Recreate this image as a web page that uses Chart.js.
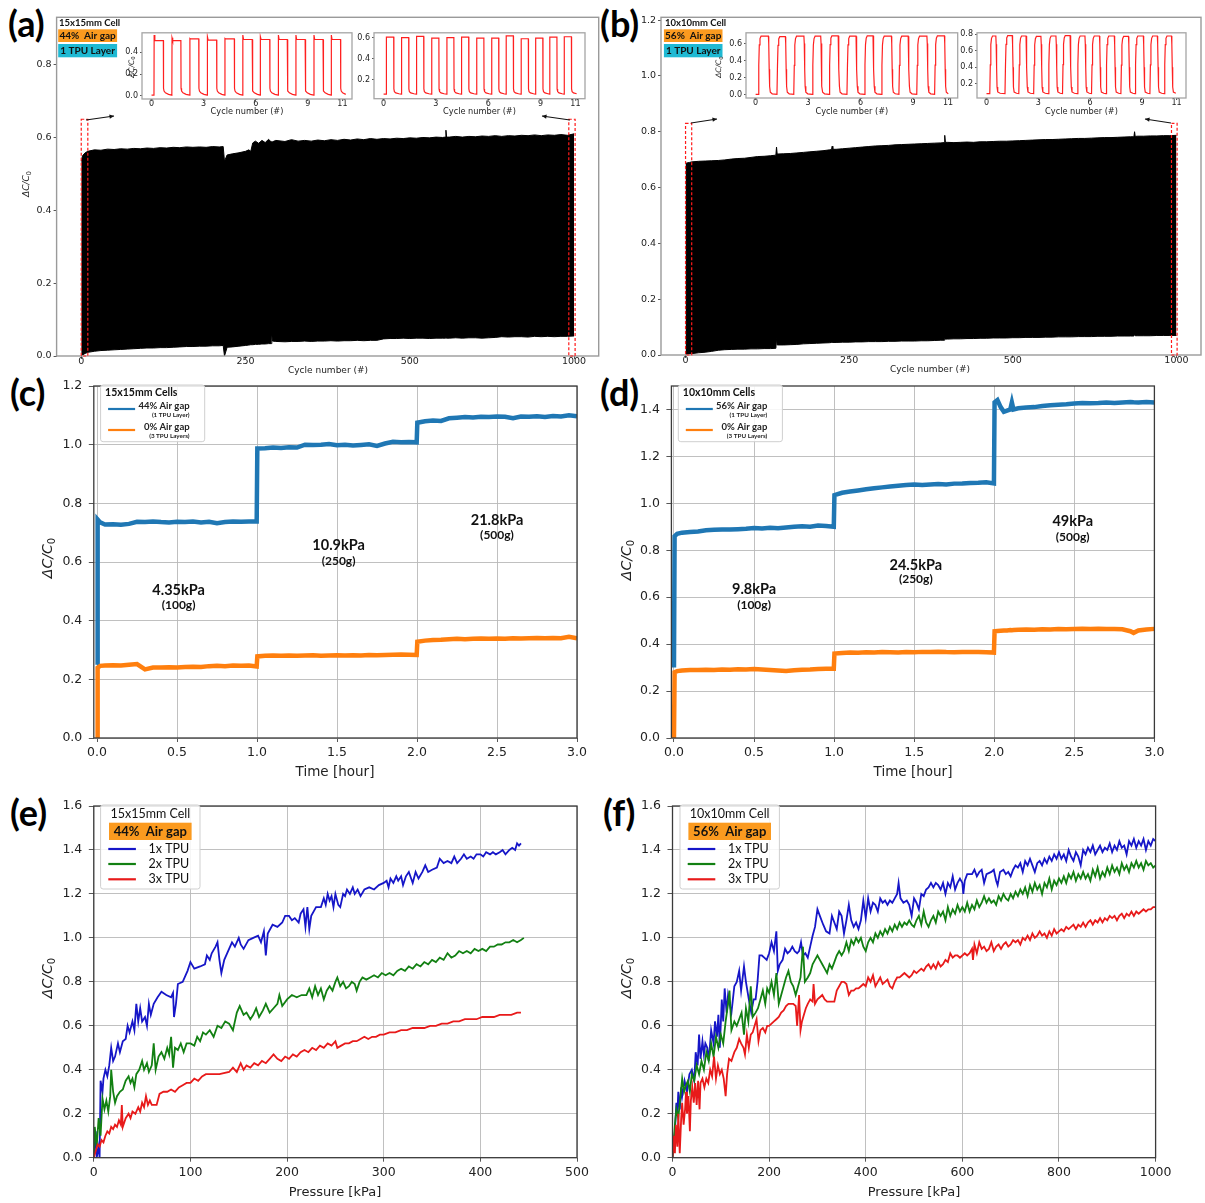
<!DOCTYPE html>
<html>
<head>
<meta charset="utf-8">
<script src="https://cdn.jsdelivr.net/npm/chart.js@4.4.1/dist/chart.umd.min.js"></script>
<style>
  html, body { margin: 0; padding: 0; background: #fff; }
  #fig { position: relative; width: 1205px; height: 1203px; overflow: hidden; background: #fff; }
  #fig canvas { position: absolute; }
  .tag { position: absolute; font-family: Lato, 'Open Sans', sans-serif; font-weight: 700; font-size: 36px; line-height: 1; color: #000; }
</style>
</head>
<body>
<div id="fig">
  <div class="tag" style="left:8px;top:5px">(a)</div>
  <div class="tag" style="left:600px;top:5px">(b)</div>
  <div class="tag" style="left:10px;top:374px">(c)</div>
  <div class="tag" style="left:600px;top:374px">(d)</div>
  <div class="tag" style="left:10px;top:794px">(e)</div>
  <div class="tag" style="left:603px;top:794px">(f)</div>
</div>
<script>
// ---------------- data ----------------

// (a)/(b) long cycling runs: [cycle position, lower envelope, upper envelope]
const cycleTickPos = [0, 250, 500, 750];
const cycleTickText = ['0', '250', '500', '1000'];

const envelopeA = [
  [0,0.0,0.535],[2,0.003,0.55],[6,0.007,0.558],[10,0.01,0.562],[20,0.013,0.566],[30,0.015,0.565],
  [40,0.016,0.568],[50,0.017,0.567],[60,0.018,0.569],[70,0.019,0.568],[80,0.02,0.57],[90,0.021,0.569],
  [100,0.022,0.571],[110,0.022,0.57],[120,0.023,0.572],[130,0.023,0.571],[140,0.024,0.573],[150,0.025,0.572],
  [160,0.026,0.574],[170,0.026,0.573],[180,0.027,0.574],[190,0.027,0.573],[200,0.028,0.575],[210,0.028,0.574],
  [216,0.029,0.575],[218,0.0,0.535],[222,0.024,0.552],[230,0.025,0.555],[240,0.027,0.558],[250,0.029,0.562],
  [255,0.03,0.566],[258,0.031,0.562],[261,0.031,0.585],[265,0.032,0.59],[270,0.032,0.584],[275,0.033,0.592],
  [280,0.033,0.586],[285,0.034,0.595],[289,0.034,0.588],[290,0.058,0.589],[291,0.041,0.588],[296,0.04,0.592],
  [310,0.039,0.589],[320,0.04,0.594],
  [330,0.04,0.59],[340,0.041,0.592],[350,0.04,0.59],[360,0.041,0.593],[370,0.041,0.591],[380,0.042,0.594],
  [390,0.041,0.592],[400,0.042,0.595],[410,0.042,0.593],[420,0.043,0.596],[430,0.042,0.594],[440,0.043,0.597],
  [450,0.043,0.595],[460,0.047,0.597],[470,0.048,0.596],[480,0.048,0.598],[490,0.049,0.597],[500,0.048,0.599],
  [510,0.049,0.598],[520,0.049,0.6],[530,0.048,0.599],[540,0.049,0.601],[550,0.049,0.6],[554,0.049,0.601],
  [555,0.05,0.62],[556,0.049,0.601],
  [560,0.049,0.601],[570,0.05,0.603],[580,0.049,0.601],[590,0.05,0.603],[600,0.05,0.602],[610,0.049,0.604],
  [620,0.05,0.603],[630,0.051,0.605],[640,0.053,0.603],[650,0.052,0.605],[660,0.053,0.604],[670,0.053,0.606],
  [680,0.052,0.605],[690,0.054,0.607],[700,0.053,0.605],[710,0.054,0.607],[720,0.053,0.606],[730,0.054,0.608],
  [740,0.054,0.606],[750,0.055,0.61]
];

const envelopeB = [
  [0,0.0,0.686],[2,0.002,0.688],[6,0.004,0.69],[10,0.005,0.692],[20,0.008,0.694],[30,0.01,0.695],
  [40,0.013,0.696],[50,0.017,0.697],[60,0.019,0.699],[70,0.02,0.702],[80,0.021,0.704],[90,0.021,0.705],
  [100,0.022,0.708],[110,0.022,0.711],[120,0.023,0.712],[130,0.023,0.714],[138,0.024,0.716],[139,0.06,0.745],
  [140,0.036,0.72],[150,0.036,0.721],[160,0.037,0.722],[170,0.038,0.724],[180,0.04,0.726],[190,0.041,0.728],
  [200,0.042,0.73],[210,0.043,0.732],[220,0.044,0.735],[223,0.045,0.736],[224,0.045,0.748],[225,0.045,0.737],
  [230,0.045,0.737],[240,0.046,0.739],
  [250,0.046,0.741],[260,0.047,0.743],[270,0.047,0.745],[280,0.048,0.747],[290,0.048,0.749],[300,0.048,0.75],
  [310,0.049,0.751],[320,0.049,0.753],[330,0.05,0.754],[340,0.05,0.755],[350,0.05,0.756],[360,0.051,0.757],
  [370,0.051,0.758],[380,0.052,0.759],[390,0.053,0.76],[395,0.053,0.761],[396,0.058,0.787],[397,0.057,0.762],
  [400,0.057,0.762],[410,0.058,0.761],
  [420,0.058,0.762],[430,0.059,0.763],[440,0.059,0.762],[450,0.06,0.764],[460,0.06,0.764],[470,0.061,0.765],
  [480,0.061,0.766],[490,0.061,0.766],[500,0.062,0.767],[510,0.062,0.768],[520,0.063,0.769],[530,0.063,0.77],
  [540,0.063,0.771],[550,0.064,0.772],[560,0.064,0.772],[570,0.065,0.773],[580,0.065,0.774],[590,0.065,0.775],
  [600,0.066,0.776],[610,0.066,0.776],[620,0.066,0.777],[630,0.067,0.778],[640,0.067,0.779],[650,0.067,0.779],
  [660,0.068,0.78],[670,0.068,0.781],[680,0.068,0.782],[685,0.068,0.782],[686,0.075,0.8],[687,0.069,0.783],
  [690,0.069,0.784],[700,0.069,0.784],
  [710,0.069,0.785],[720,0.07,0.785],[730,0.07,0.786],[740,0.07,0.786],[750,0.07,0.787]
];

// marked cycle windows shown enlarged in the insets
const zoomSpansA = [[0, 10], [742, 751.6]];
const zoomTopA = 0.65;
const zoomSpansB = [[0, 9.4], [742.4, 751]];
const zoomTopB = 0.83;

// inset pulse trains (first and last cycles)
const insetTicks = [0, 3, 6, 9, 11];
const a1Rise = [0.14, 1.17, 2.2, 3.21, 4.22, 5.25, 6.26, 7.3, 8.31, 9.35, 10.35];
const a1Fall = [0.68, 1.69, 2.72, 3.75, 4.77, 5.8, 6.81, 7.82, 8.85, 9.88, 10.89];
const a1Top  = [0.505, 0.505, 0.52, 0.51, 0.52, 0.515, 0.515, 0.515, 0.515, 0.515, 0.515];
const a1Peak = [0.556, 0.53, 0.525, 0.54, 0.525, 0.556, 0.54, 0.556, 0.556, 0.556, 0.556];
const a2Rise = [0.15, 1.02, 1.88, 2.75, 3.62, 4.46, 5.33, 6.19, 7.02, 7.88, 8.71, 9.52, 10.35];
const a2Fall = [0.58, 1.44, 2.3, 3.17, 4.03, 4.88, 5.75, 6.6, 7.44, 8.3, 9.13, 9.94, 10.77];
const a2Top  = [0.606, 0.6, 0.612, 0.597, 0.6, 0.606, 0.597, 0.597, 0.618, 0.59, 0.597, 0.606, 0.609];
const b1Rise = [0.15, 1.22, 2.18, 3.24, 4.2, 5.22, 6.22, 7.19, 8.19, 9.21, 10.23];
const b1Fall = [0.73, 1.7, 2.76, 3.72, 4.72, 5.74, 6.71, 7.76, 8.72, 9.79, 10.79];
const b1Top  = [0.685, 0.68, 0.685, 0.685, 0.69, 0.685, 0.69, 0.685, 0.685, 0.685, 0.69];
const b2Rise = [0.19, 1.07, 1.87, 2.73, 3.58, 4.4, 5.26, 6.08, 6.92, 7.78, 8.6, 9.46, 10.29];
const b2Fall = [0.54, 1.49, 2.29, 3.15, 4.02, 4.84, 5.7, 6.54, 7.4, 8.22, 9.08, 9.89, 10.71];
const b2Top  = [0.78, 0.785, 0.78, 0.775, 0.78, 0.785, 0.78, 0.78, 0.78, 0.775, 0.78, 0.78, 0.78];

// edge profiles of the pulses: rise [dx, fraction of plateau], fall [dx, level]
const sharpRise = [[0.012, 1]];
const roundRise = [[0.03, 0.5], [0.06, 0.85], [0.1, 0.96], [0.16, 1]];
const a1Tail = [[0.01, 0.07], [0.04, 0.045], [0.12, 0.028], [0.3, 0.014]];
const a2Tail = [[0.01, 0.11], [0.04, 0.085], [0.12, 0.072], [0.3, 0.064]];
const b1Tail = [[0.02, 0.6], [0.045, 0.3], [0.07, 0.1], [0.11, 0.03], [0.22, 0.012]];
const b2Tail = [[0.02, 0.68], [0.045, 0.4], [0.07, 0.16], [0.11, 0.1], [0.25, 0.085]];

// (c) 15x15mm cells, constant loads
const timeC = [0,0.004,0.02,0.05,
  0.1,0.15,0.2,0.25,0.3,0.35,0.4,0.45,0.5,0.55,0.6,0.65,0.7,0.75,0.8,0.85,0.9,0.95,
  0.998,1.002,
  1.05,1.1,1.15,1.2,1.25,1.3,1.35,1.4,1.45,1.5,1.55,1.6,1.65,1.7,1.75,1.8,1.85,1.9,1.95,
  1.998,2.002,
  2.05,2.1,2.15,2.2,2.25,2.3,2.35,2.4,2.45,2.5,2.55,2.6,2.65,2.7,2.75,2.8,2.85,2.9,2.95,3.0];
const blueC = [0.25,0.745,0.735,0.728,
  0.729,0.727,0.73,0.737,0.736,0.738,0.736,0.735,0.737,0.736,0.738,0.735,0.737,0.732,0.736,0.738,0.737,0.738,
  0.738,0.987,
  0.988,0.99,0.989,0.991,0.99,1.0,0.999,1.0,1.002,0.998,1.0,0.997,0.999,1.001,0.996,1.004,1.01,1.008,1.009,
  1.008,1.075,
  1.08,1.082,1.081,1.09,1.092,1.094,1.093,1.095,1.094,1.096,1.095,1.09,1.096,1.095,1.097,1.094,1.098,1.096,1.1,1.097];
const orangeC = [0.0,0.24,0.246,0.247,
  0.248,0.247,0.25,0.252,0.234,0.24,0.24,0.241,0.24,0.242,0.243,0.242,0.245,0.246,0.245,0.247,0.246,0.247,
  0.244,0.278,
  0.28,0.281,0.28,0.281,0.28,0.281,0.282,0.28,0.281,0.282,0.281,0.282,0.281,0.283,0.282,0.283,0.284,0.285,0.284,
  0.283,0.328,
  0.332,0.334,0.335,0.337,0.338,0.337,0.338,0.339,0.338,0.339,0.338,0.34,0.339,0.34,0.341,0.34,0.341,0.34,0.345,0.34];

// (d) 10x10mm cells, constant loads
const timeD = [0,0.004,0.02,0.05,
  0.1,0.15,0.2,0.25,0.3,0.35,0.4,0.45,0.5,0.55,0.6,0.65,0.7,0.75,0.8,0.85,0.9,0.95,
  0.998,1.002,
  1.05,1.1,1.15,1.2,1.25,1.3,1.35,1.4,1.45,1.5,1.55,1.6,1.65,1.7,1.75,1.8,1.85,1.9,1.95,
  1.998,2.002,
  2.02,2.04,2.06,2.08,2.1,2.11,2.12,2.15,
  2.2,2.25,2.3,2.35,2.4,2.45,2.5,2.55,2.6,2.65,2.7,2.75,2.8,2.85,
  2.87,2.9,2.95,3.0];
const blueD = [0.30,0.86,0.87,0.875,
  0.878,0.88,0.885,0.887,0.889,0.888,0.89,0.892,0.895,0.893,0.896,0.894,0.897,0.9,0.902,0.9,0.905,0.903,
  0.9,1.035,
  1.045,1.05,1.055,1.06,1.064,1.068,1.072,1.075,1.078,1.08,1.078,1.08,1.082,1.08,1.084,1.085,1.087,1.088,1.09,
  1.085,1.43,
  1.44,1.41,1.39,1.395,1.40,1.43,1.40,1.405,
  1.408,1.41,1.415,1.418,1.42,1.422,1.425,1.428,1.427,1.428,1.43,1.428,1.43,1.432,
  1.431,1.43,1.432,1.43];
const orangeD = [0.0,0.28,0.285,0.288,
  0.29,0.29,0.291,0.29,0.292,0.291,0.293,0.292,0.294,0.292,0.29,0.288,0.286,0.289,0.291,0.292,0.294,0.295,
  0.295,0.36,
  0.362,0.364,0.363,0.365,0.364,0.366,0.365,0.364,0.366,0.365,0.367,0.366,0.368,0.366,0.365,0.366,0.367,0.366,0.365,
  0.364,0.455,
  0.456,0.457,0.458,0.458,0.46,0.459,0.46,0.461,
  0.462,0.461,0.463,0.462,0.464,0.463,0.465,0.466,0.465,0.466,0.465,0.464,0.463,0.455,
  0.448,0.458,0.462,0.465];

// (e) 15x15mm cell, 44% air gap: [pressure kPa, dC/C0]
const e1x = [[0,0],[2,0.12],[3,0],[5,0.05],[6,0],[7,0.35],[9,0.3],[10,0.36],[12,0.4],[14,0.37],[16,0.42],[18,0.5],[20,0.44],[22,0.46],[25,0.52],[27,0.48],[30,0.53],[33,0.54],[35,0.6],[37,0.57],[40,0.62],[42,0.58],[44,0.7],[46,0.62],[48,0.68],[50,0.62],[53,0.64],[55,0.6],[57,0.7],[59,0.65],[62,0.7],[66,0.73],[70,0.755],[75,0.74],[80,0.73],[82,0.75],[83,0.64],[85,0.7],[87,0.79],[92,0.8],[97,0.85],[100,0.89],[104,0.86],[110,0.87],[115,0.88],[117,0.92],[120,0.9],[122,0.93],[126,0.96],[128,0.98],[130,0.9],[132,0.84],[135,0.9],[140,0.95],[143,0.98],[146,0.96],[150,1.0],[152,0.97],[155,0.95],[160,0.99],[165,1.0],[170,1.01],[173,0.98],[176,1.03],[178,0.92],[180,1.02],[185,1.06],[190,1.05],[195,1.07],[198,1.1],[202,1.1],[205,1.08],[208,1.09],[212,1.07],[214,1.11],[217,1.13],[219,1.05],[221,1.14],[223,1.04],[225,1.1],[230,1.14],[235,1.14],[238,1.18],[240,1.15],[242,1.2],[244,1.17],[246,1.19],[248,1.14],[250,1.2],[253,1.15],[255,1.14],[258,1.2],[260,1.19],[262,1.22],[265,1.2],[268,1.23],[270,1.2],[273,1.22],[276,1.19],[280,1.22],[285,1.23],[290,1.22],[295,1.24],[300,1.25],[303,1.26],[305,1.23],[307,1.27],[310,1.25],[313,1.28],[315,1.26],[318,1.28],[320,1.24],[323,1.28],[326,1.3],[330,1.25],[333,1.3],[336,1.27],[340,1.3],[343,1.33],[346,1.3],[350,1.31],[355,1.32],[358,1.36],[362,1.34],[366,1.35],[370,1.34],[373,1.37],[376,1.34],[380,1.36],[383,1.38],[386,1.36],[390,1.37],[393,1.36],[396,1.38],[400,1.38],[403,1.37],[406,1.39],[410,1.38],[413,1.39],[416,1.38],[420,1.39],[423,1.4],[426,1.38],[430,1.4],[433,1.41],[436,1.4],[438,1.43],[440,1.42],[442,1.43]];
const e2x = [[0,0],[1,0.14],[3,0.05],[5,0.18],[7,0.1],[9,0.27],[11,0.22],[13,0.26],[15,0.21],[17,0.28],[18,0.4],[20,0.3],[22,0.25],[24,0.28],[27,0.3],[30,0.31],[33,0.35],[36,0.37],[38,0.34],[40,0.36],[42,0.32],[44,0.38],[47,0.4],[50,0.44],[52,0.4],[55,0.43],[57,0.39],[60,0.42],[62,0.52],[64,0.4],[67,0.46],[70,0.48],[73,0.45],[76,0.5],[78,0.47],[80,0.55],[82,0.41],[84,0.5],[87,0.49],[90,0.52],[93,0.48],[96,0.52],[100,0.52],[104,0.51],[107,0.55],[110,0.53],[113,0.57],[116,0.56],[120,0.58],[124,0.55],[128,0.6],[132,0.59],[136,0.62],[140,0.61],[144,0.58],[148,0.66],[151,0.69],[155,0.65],[158,0.66],[162,0.63],[165,0.65],[168,0.68],[171,0.64],[175,0.67],[178,0.7],[182,0.66],[186,0.68],[190,0.7],[192,0.74],[195,0.69],[200,0.72],[205,0.74],[210,0.73],[215,0.74],[220,0.74],[223,0.77],[226,0.73],[229,0.78],[232,0.74],[235,0.77],[238,0.72],[241,0.76],[244,0.78],[247,0.76],[250,0.8],[252,0.82],[255,0.78],[258,0.8],[261,0.77],[264,0.78],[267,0.8],[270,0.79],[272,0.76],[275,0.8],[278,0.82],[282,0.81],[286,0.82],[290,0.83],[294,0.82],[298,0.84],[302,0.83],[306,0.84],[310,0.83],[314,0.85],[318,0.86],[322,0.85],[326,0.87],[330,0.86],[334,0.88],[338,0.87],[342,0.89],[346,0.88],[350,0.9],[354,0.89],[358,0.91],[362,0.9],[366,0.93],[370,0.91],[374,0.92],[378,0.94],[382,0.93],[386,0.94],[390,0.93],[394,0.95],[398,0.94],[402,0.95],[406,0.94],[410,0.96],[414,0.96],[418,0.97],[422,0.97],[426,0.98],[430,0.98],[434,0.99],[438,0.98],[442,0.99],[445,1.0]];
const e3x = [[0,0],[2,0.03],[4,0.06],[6,0.05],[8,0.08],[10,0.07],[12,0.1],[14,0.12],[16,0.11],[18,0.14],[20,0.13],[22,0.15],[24,0.14],[26,0.17],[28,0.15],[29,0.24],[30,0.14],[33,0.18],[36,0.2],[38,0.18],[40,0.21],[43,0.2],[46,0.23],[48,0.21],[50,0.25],[52,0.23],[54,0.28],[56,0.24],[58,0.26],[60,0.24],[65,0.24],[68,0.29],[72,0.3],[76,0.3],[80,0.31],[84,0.3],[88,0.32],[92,0.33],[96,0.34],[100,0.34],[104,0.36],[108,0.35],[112,0.37],[116,0.38],[120,0.38],[130,0.38],[140,0.39],[144,0.41],[148,0.39],[152,0.43],[155,0.4],[158,0.42],[162,0.41],[166,0.43],[170,0.42],[174,0.44],[178,0.43],[182,0.45],[186,0.47],[190,0.45],[194,0.44],[198,0.46],[202,0.45],[206,0.47],[210,0.46],[214,0.48],[218,0.49],[222,0.48],[226,0.5],[230,0.49],[234,0.51],[238,0.5],[242,0.52],[246,0.51],[250,0.53],[252,0.5],[256,0.51],[260,0.52],[264,0.52],[268,0.53],[272,0.53],[276,0.54],[280,0.55],[284,0.54],[288,0.55],[292,0.55],[296,0.56],[300,0.56],[306,0.57],[312,0.57],[318,0.58],[324,0.58],[330,0.59],[336,0.59],[342,0.59],[348,0.6],[354,0.6],[360,0.61],[366,0.61],[372,0.62],[378,0.62],[384,0.63],[390,0.63],[396,0.63],[402,0.64],[408,0.64],[414,0.64],[420,0.65],[426,0.65],[432,0.65],[438,0.66],[442,0.66]];

// (f) 10x10mm cell, 56% air gap: [pressure kPa, dC/C0]
const f1x = [[0,0],[5,0.12],[8,0.25],[10,0.2],[12,0.3],[15,0.22],[18,0.32],[20,0.28],[25,0.35],[30,0.3],[35,0.38],[40,0.4],[45,0.35],[48,0.48],[52,0.42],[55,0.56],[58,0.45],[62,0.53],[65,0.47],[68,0.52],[72,0.5],[75,0.44],[80,0.58],[85,0.52],[88,0.62],[92,0.55],[95,0.65],[98,0.5],[102,0.72],[105,0.62],[108,0.77],[112,0.66],[115,0.74],[118,0.7],[122,0.66],[128,0.78],[133,0.8],[138,0.85],[142,0.76],[148,0.87],[152,0.8],[158,0.72],[163,0.66],[168,0.72],[172,0.72],[176,0.8],[180,0.92],[185,0.92],[190,0.91],[195,0.9],[200,0.93],[205,0.98],[210,0.94],[215,1.03],[218,0.85],[222,0.88],[228,0.9],[233,0.95],[238,0.93],[243,0.94],[248,0.96],[253,0.94],[258,0.93],[262,0.94],[266,0.98],[270,0.92],[275,0.93],[280,0.91],[285,0.96],[290,1.01],[295,1.05],[300,1.13],[305,1.1],[312,1.06],[318,1.03],[325,1.02],[330,1.1],[335,1.07],[340,1.04],[345,1.12],[350,1.1],[355,1.02],[360,1.08],[365,1.15],[370,1.08],[375,1.05],[380,1.07],[385,1.04],[390,1.08],[395,1.17],[400,1.09],[405,1.18],[410,1.12],[415,1.16],[420,1.15],[425,1.12],[430,1.18],[435,1.16],[440,1.17],[445,1.15],[450,1.17],[455,1.16],[460,1.18],[465,1.2],[468,1.25],[472,1.18],[478,1.16],[485,1.17],[490,1.15],[495,1.1],[500,1.18],[505,1.16],[510,1.13],[515,1.2],[520,1.19],[525,1.22],[530,1.23],[535,1.25],[540,1.23],[545,1.25],[550,1.24],[555,1.22],[560,1.25],[565,1.2],[570,1.25],[575,1.23],[580,1.28],[585,1.22],[590,1.25],[595,1.27],[600,1.25],[602,1.2],[605,1.26],[610,1.29],[620,1.29],[625,1.31],[630,1.28],[635,1.3],[640,1.31],[645,1.25],[650,1.29],[660,1.3],[665,1.31],[670,1.26],[673,1.24],[678,1.3],[685,1.31],[690,1.29],[695,1.3],[700,1.28],[705,1.31],[710,1.33],[715,1.32],[720,1.34],[725,1.3],[730,1.35],[735,1.33],[740,1.36],[745,1.33],[750,1.3],[755,1.34],[760,1.35],[765,1.33],[770,1.36],[775,1.34],[780,1.37],[785,1.35],[790,1.38],[795,1.36],[800,1.39],[805,1.36],[810,1.38],[815,1.35],[820,1.4],[825,1.37],[830,1.35],[835,1.39],[840,1.37],[845,1.33],[850,1.4],[855,1.38],[860,1.41],[865,1.39],[870,1.42],[875,1.38],[880,1.4],[885,1.42],[890,1.39],[895,1.41],[900,1.4],[905,1.43],[910,1.39],[915,1.42],[920,1.4],[925,1.44],[930,1.41],[935,1.42],[940,1.38],[945,1.44],[950,1.42],[955,1.45],[960,1.41],[965,1.44],[970,1.42],[975,1.45],[980,1.4],[985,1.44],[990,1.42],[995,1.45],[1000,1.44]];
const f2x = [[0,0],[5,0.15],[8,0.22],[12,0.18],[16,0.27],[20,0.36],[24,0.3],[28,0.33],[32,0.35],[36,0.3],[40,0.38],[45,0.35],[50,0.42],[55,0.38],[60,0.44],[65,0.4],[70,0.48],[75,0.44],[80,0.52],[85,0.46],[90,0.55],[95,0.5],[100,0.56],[105,0.52],[110,0.62],[115,0.7],[118,0.76],[122,0.58],[128,0.62],[133,0.6],[138,0.63],[143,0.66],[148,0.56],[152,0.68],[157,0.62],[162,0.78],[166,0.64],[172,0.66],[177,0.68],[182,0.72],[187,0.76],[192,0.7],[196,0.77],[200,0.75],[205,0.8],[210,0.74],[215,0.84],[220,0.7],[225,0.74],[230,0.78],[235,0.82],[240,0.85],[245,0.8],[250,0.78],[255,0.74],[260,0.78],[265,0.82],[270,0.96],[274,0.8],[280,0.82],[285,0.84],[290,0.88],[295,0.9],[300,0.92],[305,0.9],[310,0.88],[315,0.86],[320,0.84],[325,0.88],[330,0.86],[335,0.89],[340,0.92],[345,0.94],[350,0.92],[355,0.94],[360,0.98],[365,0.94],[370,0.99],[375,0.97],[380,1.0],[385,0.98],[390,1.0],[395,0.96],[400,0.94],[405,0.98],[410,1.0],[415,0.98],[420,1.02],[425,1.0],[430,1.03],[435,1.01],[440,1.04],[445,1.02],[450,1.05],[455,1.03],[460,1.06],[465,1.04],[470,1.07],[475,1.05],[480,1.07],[485,1.06],[490,1.08],[495,1.06],[500,1.05],[505,1.08],[510,1.1],[515,1.06],[520,1.12],[525,1.07],[530,1.05],[535,1.08],[540,1.1],[545,1.07],[550,1.12],[555,1.1],[560,1.12],[565,1.08],[570,1.14],[575,1.1],[580,1.13],[585,1.11],[590,1.15],[595,1.12],[600,1.14],[605,1.12],[610,1.16],[615,1.12],[620,1.15],[625,1.13],[630,1.17],[635,1.14],[640,1.16],[645,1.19],[650,1.16],[655,1.18],[660,1.16],[665,1.17],[670,1.15],[675,1.19],[680,1.17],[685,1.2],[690,1.18],[695,1.17],[700,1.2],[705,1.18],[710,1.21],[715,1.19],[720,1.22],[725,1.2],[730,1.23],[735,1.19],[740,1.24],[745,1.21],[750,1.25],[755,1.22],[760,1.24],[765,1.2],[770,1.25],[775,1.23],[780,1.27],[785,1.22],[790,1.26],[795,1.24],[800,1.27],[805,1.25],[810,1.28],[815,1.25],[820,1.29],[825,1.27],[830,1.3],[835,1.26],[840,1.29],[845,1.27],[850,1.3],[855,1.27],[860,1.29],[865,1.26],[870,1.31],[875,1.28],[880,1.32],[885,1.27],[890,1.3],[895,1.28],[900,1.32],[905,1.29],[910,1.33],[915,1.3],[920,1.32],[925,1.29],[930,1.34],[935,1.31],[940,1.33],[945,1.3],[950,1.34],[955,1.32],[960,1.35],[965,1.32],[970,1.34],[975,1.31],[980,1.35],[985,1.33],[990,1.34],[995,1.32],[1000,1.33]];
const f3x = [[0,0],[3,0.1],[5,0.02],[7,0.15],[10,0.05],[12,0.2],[15,0.02],[18,0.18],[20,0.25],[23,0.15],[26,0.22],[28,0.3],[30,0.2],[33,0.28],[36,0.12],[38,0.26],[41,0.32],[44,0.25],[47,0.34],[50,0.24],[53,0.35],[56,0.22],[58,0.34],[62,0.36],[66,0.32],[70,0.36],[74,0.34],[78,0.4],[82,0.37],[86,0.46],[90,0.36],[94,0.42],[98,0.38],[102,0.4],[106,0.36],[110,0.28],[113,0.38],[117,0.45],[122,0.44],[128,0.48],[133,0.5],[138,0.54],[142,0.52],[147,0.5],[150,0.47],[154,0.56],[158,0.5],[162,0.56],[166,0.57],[170,0.6],[174,0.63],[178,0.53],[182,0.58],[187,0.59],[192,0.57],[196,0.6],[200,0.6],[205,0.61],[210,0.62],[215,0.63],[220,0.64],[225,0.66],[230,0.67],[235,0.69],[240,0.7],[245,0.7],[250,0.7],[255,0.69],[258,0.6],[262,0.74],[265,0.58],[268,0.62],[272,0.65],[276,0.68],[280,0.7],[285,0.72],[290,0.71],[292,0.79],[295,0.7],[300,0.72],[305,0.73],[310,0.74],[315,0.72],[320,0.71],[325,0.71],[330,0.71],[335,0.71],[340,0.76],[345,0.78],[350,0.8],[355,0.8],[360,0.79],[365,0.74],[370,0.76],[375,0.76],[380,0.77],[385,0.77],[390,0.78],[395,0.79],[400,0.78],[405,0.82],[410,0.8],[415,0.83],[420,0.78],[425,0.8],[430,0.82],[435,0.79],[440,0.8],[445,0.81],[450,0.78],[455,0.77],[460,0.8],[465,0.82],[470,0.82],[475,0.83],[480,0.84],[485,0.83],[490,0.82],[495,0.83],[500,0.85],[505,0.84],[510,0.85],[515,0.86],[520,0.85],[525,0.87],[530,0.88],[535,0.86],[540,0.88],[545,0.86],[550,0.89],[555,0.87],[560,0.88],[565,0.9],[570,0.89],[575,0.93],[580,0.91],[585,0.92],[590,0.92],[595,0.91],[600,0.92],[605,0.93],[610,0.92],[615,0.93],[620,0.95],[622,0.9],[625,0.97],[630,0.93],[635,0.98],[640,0.95],[645,0.96],[650,0.94],[655,0.95],[660,0.98],[665,0.94],[670,0.96],[675,0.97],[680,0.95],[685,0.97],[690,0.98],[695,0.96],[700,0.97],[705,0.99],[710,0.98],[715,0.99],[720,0.97],[725,1.0],[730,0.99],[735,1.01],[740,0.99],[745,1.02],[750,1.0],[755,1.01],[760,1.03],[765,1.01],[770,1.02],[775,1.0],[780,1.03],[785,1.01],[790,1.04],[795,1.02],[800,1.03],[805,1.04],[810,1.03],[815,1.05],[820,1.04],[825,1.05],[830,1.06],[835,1.04],[840,1.06],[845,1.05],[850,1.07],[855,1.05],[860,1.07],[865,1.08],[870,1.06],[875,1.08],[880,1.07],[885,1.09],[890,1.07],[895,1.09],[900,1.08],[905,1.1],[910,1.09],[915,1.1],[920,1.08],[925,1.1],[930,1.11],[935,1.09],[940,1.11],[945,1.1],[950,1.12],[955,1.1],[960,1.12],[965,1.11],[970,1.12],[975,1.13],[980,1.12],[985,1.13],[990,1.13],[995,1.14],[1000,1.14]];

// load annotations for (c) and (d): [text, time, dC/C0 level, size]
const loadsC = [['4.35kPa',0.51,0.504,14.5],['(100g)',0.51,0.454,12],['10.9kPa',1.51,0.658,14.5],['(250g)',1.51,0.603,12],['21.8kPa',2.5,0.743,14.5],['(500g)',2.5,0.69,12]];
const loadsD = [['9.8kPa',0.5,0.633,14.5],['(100g)',0.5,0.565,12],['24.5kPa',1.51,0.737,14.5],['(250g)',1.51,0.676,12],['49kPa',2.49,0.925,14.5],['(500g)',2.49,0.856,12]];

// ---------------- helpers ----------------
const FT = "'DejaVu Sans', sans-serif";
const FL = "Lato, 'Open Sans', sans-serif";
const BLUE_T = '#1f77b4', ORANGE_T = '#ff7f0e';
const C_BLUE = '#1616c8', C_GREEN = '#128012', C_RED = '#e81a1a';
const TAG_ORANGE = '#fb9a1f', TAG_CYAN = '#1fb9d3';
const fig = document.getElementById('fig');
const ORIGIN = {x: 0, y: 0};

const pts = (xs, ys) => xs.map((x, i) => ({x, y: ys[i]}));
const pairs = arr => arr.map(([x, y]) => ({x, y}));

function pulseTrain(rise, fall, top, peak, base, riseEdge, tail) {
  const out = [{x: 0, y: base}];
  rise.forEach((r, i) => {
    out.push({x: r, y: base});
    if (peak) {
      out.push({x: r + 0.01, y: peak[i]});
      out.push({x: r + 0.05, y: top[i]});
    } else {
      riseEdge.forEach(([dx, f]) => out.push({x: r + dx, y: base + f * (top[i] - base)}));
    }
    out.push({x: fall[i], y: top[i]});
    tail.forEach(([dx, lv]) => out.push({x: fall[i] + dx, y: lv}));
  });
  return out;
}

function txt(ctx, box, s, x, y, font, opt = {}) {
  ctx.save();
  ctx.font = font;
  ctx.fillStyle = opt.color || '#111';
  ctx.textAlign = opt.align || 'center';
  ctx.textBaseline = 'middle';
  ctx.fillText(s, x - box.x, y - box.y);
  ctx.restore();
}

function ratioLabel(ctx, box, x, y, size) {
  ctx.save();
  ctx.translate(x - box.x, y - box.y);
  ctx.rotate(-Math.PI / 2);
  const f1 = `italic ${size}px ${FT}`, f2 = `${(size * 0.72).toFixed(1)}px ${FT}`;
  ctx.font = f1; const w1 = ctx.measureText('ΔC/C').width;
  ctx.font = f2; const w2 = ctx.measureText('0').width;
  const x0 = -(w1 + w2) / 2;
  ctx.fillStyle = '#222'; ctx.textBaseline = 'middle'; ctx.textAlign = 'left';
  ctx.font = f1; ctx.fillText('ΔC/C', x0, 0);
  ctx.font = f2; ctx.fillText('0', x0 + w1, size * 0.3);
  ctx.restore();
}

function arrow(ctx, box, x1, y1, x2, y2) {
  const a = Math.atan2(y2 - y1, x2 - x1), L = 5;
  ctx.save();
  ctx.strokeStyle = '#111'; ctx.fillStyle = '#111'; ctx.lineWidth = 1.2;
  ctx.beginPath(); ctx.moveTo(x1 - box.x, y1 - box.y); ctx.lineTo(x2 - box.x, y2 - box.y); ctx.stroke();
  ctx.beginPath();
  ctx.moveTo(x2 - box.x, y2 - box.y);
  ctx.lineTo(x2 - box.x - L * Math.cos(a - 0.45), y2 - box.y - L * Math.sin(a - 0.45));
  ctx.lineTo(x2 - box.x - L * Math.cos(a + 0.45), y2 - box.y - L * Math.sin(a + 0.45));
  ctx.closePath(); ctx.fill();
  ctx.restore();
}

function rrect(ctx, box, x, y, w, h, r) {
  ctx.save();
  ctx.beginPath();
  ctx.roundRect(x - box.x, y - box.y, w, h, r);
  ctx.fillStyle = 'rgba(255,255,255,0.85)'; ctx.fill();
  ctx.strokeStyle = '#cfcfcf'; ctx.lineWidth = 1; ctx.stroke();
  ctx.restore();
}

function fillBox(ctx, box, x, y, w, h, color) {
  ctx.fillStyle = color;
  ctx.fillRect(x - box.x, y - box.y, w, h);
}

function seg(ctx, box, x1, x2, y, color, w) {
  ctx.save();
  ctx.strokeStyle = color; ctx.lineWidth = w;
  ctx.beginPath(); ctx.moveTo(x1 - box.x, y - box.y); ctx.lineTo(x2 - box.x, y - box.y); ctx.stroke();
  ctx.restore();
}

function zoomWindows(ctx, ch, spans, top) {
  const X = ch.scales.x, Y = ch.scales.y;
  ctx.save();
  ctx.setLineDash([3, 2]); ctx.strokeStyle = '#ff1a1a'; ctx.lineWidth = 1.2;
  const y0 = Y.getPixelForValue(0), y1 = Y.getPixelForValue(top);
  spans.forEach(([a, b]) => {
    const x0 = X.getPixelForValue(a), x1 = X.getPixelForValue(b);
    ctx.strokeRect(x0, y1, x1 - x0, y0 - y1);
  });
  ctx.restore();
}

function axis(s, horizontal, size) {
  return {
    type: 'linear', min: s.min, max: s.max,
    afterBuildTicks: sc => { sc.ticks = s.ticks.map(v => ({value: v})); },
    afterFit: sc => { if (horizontal) sc.height = size; else sc.width = size; },
    grid: {
      display: true, drawOnChartArea: !!s.grid, color: '#b9b9b9', lineWidth: 0.9,
      drawTicks: true, tickLength: s.tl, tickColor: '#444', tickWidth: 0.9
    },
    border: {display: false},
    ticks: {
      padding: s.pad, color: '#222', font: s.font, maxRotation: 0, minRotation: 0, autoSkip: false,
      callback: (v, i) => s.labels ? s.labels[i] : Number(v).toFixed(s.dec === undefined ? 1 : s.dec)
    }
  };
}

function panel(box, area, xs, ys, datasets, frame, decor) {
  const cv = document.createElement('canvas');
  cv.width = box.w; cv.height = box.h;
  cv.style.left = box.x + 'px'; cv.style.top = box.y + 'px';
  cv.style.width = box.w + 'px'; cv.style.height = box.h + 'px';
  fig.appendChild(cv);
  return new Chart(cv, {
    type: 'line',
    data: {datasets},
    options: {
      responsive: false, animation: false, devicePixelRatio: 1,
      layout: {autoPadding: false, padding: {left: 0, bottom: 0, top: area.t - box.y, right: box.x + box.w - area.r}},
      plugins: {legend: {display: false}, tooltip: {enabled: false}},
      elements: {point: {radius: 0}, line: {tension: 0}},
      scales: {x: axis(xs, true, box.y + box.h - area.b), y: axis(ys, false, area.l - box.x)}
    },
    plugins: [{
      id: 'decor',
      afterDatasetsDraw(ch) {
        const ctx = ch.ctx, ca = ch.chartArea;
        ctx.save();
        ctx.strokeStyle = frame.color; ctx.lineWidth = frame.width;
        ctx.strokeRect(ca.left, ca.top, ca.right - ca.left, ca.bottom - ca.top);
        ctx.restore();
        if (decor) decor(ctx, ch, box);
      }
    }]
  });
}

const line = (data, color, width, extra = {}) => Object.assign({data, borderColor: color, borderWidth: width, fill: false, pointRadius: 0}, extra);

// ---------------- (a) ----------------
const boxA = {x: 0, y: 0, w: 600, h: 378};
panel(boxA, {l: 56.6, t: 17.3, r: 598.7, b: 356},
  {min: -37.5, max: 787.5, ticks: cycleTickPos, labels: cycleTickText, tl: 3, pad: -2, font: {family: FT, size: 9.5, lineHeight: 1}},
  {min: 0, max: 0.93, ticks: [0, 0.2, 0.4, 0.6, 0.8], tl: 3, pad: 2, font: {family: FT, size: 9.5}},
  [
    line(envelopeA.map(r => ({x: r[0], y: r[2]})), '#000', 1, {fill: '+1', backgroundColor: '#000'}),
    line(envelopeA.map(r => ({x: r[0], y: r[1]})), '#000', 1)
  ],
  {color: '#9a9a9a', width: 1.4},
  (ctx, ch, box) => {
    zoomWindows(ctx, ch, zoomSpansA, zoomTopA);
    arrow(ctx, box, 86, 120, 114, 116);
    arrow(ctx, box, 570, 120, 542, 116);
    txt(ctx, box, 'Cycle number (#)', 328, 370.5, `9px ${FT}`, {color: '#222'});
    ratioLabel(ctx, box, 27, 184, 9);
    txt(ctx, box, '15x15mm Cell', 59, 23, `bold 9.5px ${FL}`, {align: 'left'});
    fillBox(ctx, box, 58.2, 29.3, 58.9, 12.7, TAG_ORANGE);
    txt(ctx, box, '44%  Air gap', 87.6, 36, `bold 10px ${FL}`);
    fillBox(ctx, box, 58.2, 44, 58.9, 13.3, TAG_CYAN);
    txt(ctx, box, '1 TPU Layer', 87.6, 51, `bold 10px ${FL}`);
  });

// ---------------- (b) ----------------
const boxB = {x: 600, y: 0, w: 605, h: 378};
panel(boxB, {l: 661, t: 17.3, r: 1201, b: 355},
  {min: -37.5, max: 787.5, ticks: cycleTickPos, labels: cycleTickText, tl: 3, pad: -2, font: {family: FT, size: 9.5, lineHeight: 1}},
  {min: 0, max: 1.21, ticks: [0, 0.2, 0.4, 0.6, 0.8, 1.0, 1.2], tl: 3, pad: 2, font: {family: FT, size: 9.5}},
  [
    line(envelopeB.map(r => ({x: r[0], y: r[2]})), '#000', 1, {fill: '+1', backgroundColor: '#000'}),
    line(envelopeB.map(r => ({x: r[0], y: r[1]})), '#000', 1)
  ],
  {color: '#9a9a9a', width: 1.4},
  (ctx, ch, box) => {
    zoomWindows(ctx, ch, zoomSpansB, zoomTopB);
    arrow(ctx, box, 691, 123, 717, 119);
    arrow(ctx, box, 1171, 123, 1145, 119);
    txt(ctx, box, 'Cycle number (#)', 930, 369.5, `9px ${FT}`, {color: '#222'});
    txt(ctx, box, '10x10mm Cell', 665, 23, `bold 9.5px ${FL}`, {align: 'left'});
    fillBox(ctx, box, 663.9, 29.3, 58.6, 12.7, TAG_ORANGE);
    txt(ctx, box, '56%  Air gap', 693.2, 36, `bold 10px ${FL}`);
    fillBox(ctx, box, 663.9, 44, 58.6, 13.3, TAG_CYAN);
    txt(ctx, box, '1 TPU Layer', 693.2, 51, `bold 10px ${FL}`);
  });

// ---------------- insets ----------------
function inset(box, area, ylim, yticks, trace, ylabelX) {
  panel(box, area,
    {min: -0.55, max: 11.55, ticks: insetTicks, dec: 0, tl: 2, pad: -1, font: {family: FT, size: 8, lineHeight: 1}},
    {min: ylim[0], max: ylim[1], ticks: yticks, tl: 2, pad: 2, font: {family: FT, size: 8}},
    [line(trace, '#ff2020', 1.2)],
    {color: '#a5a5a5', width: 1.3},
    (ctx, ch, b) => {
      txt(ctx, b, 'Cycle number (#)', (area.l + area.r) / 2, 112.3, `8.2px ${FT}`, {color: '#222'});
      if (ylabelX) ratioLabel(ctx, b, ylabelX, 67, 7.5);
    });
}
inset({x: 118, y: 26, w: 240, h: 92}, {l: 142, t: 31.7, r: 352, b: 99}, [-0.028, 0.576], [0, 0.2, 0.4],
  pulseTrain(a1Rise, a1Fall, a1Top, a1Peak, 0.007, sharpRise, a1Tail), 131.7);
inset({x: 352, y: 26, w: 240, h: 92}, {l: 374, t: 31, r: 585, b: 98.7}, [0.017, 0.647], [0.2, 0.4, 0.6],
  pulseTrain(a2Rise, a2Fall, a2Top, null, 0.06, sharpRise, a2Tail), null);
inset({x: 712, y: 26, w: 250, h: 92}, {l: 746, t: 30.7, r: 957.7, b: 98}, [-0.037, 0.725], [0, 0.2, 0.4, 0.6],
  pulseTrain(b1Rise, b1Fall, b1Top, null, 0.005, roundRise, b1Tail), 719.3);
inset({x: 955, y: 26, w: 236, h: 92}, {l: 977, t: 30.7, r: 1186, b: 98}, [0.027, 0.819], [0.2, 0.4, 0.6, 0.8],
  pulseTrain(b2Rise, b2Fall, b2Top, null, 0.08, roundRise, b2Tail), null);

// ---------------- (c) / (d) ----------------
function loadLegend(ctx, box, x, title, gapText) {
  rrect(ctx, box, x, 385, 104.1, 56.7, 2.5);
  txt(ctx, box, title, x + 4.5, 392.8, `bold 10.5px ${FL}`, {align: 'left'});
  const rx = x + 89;
  seg(ctx, box, x + 7.5, x + 34.5, 409, BLUE_T, 2.2);
  txt(ctx, box, gapText, rx, 405.8, `bold 9.5px ${FL}`, {align: 'right', color: '#222'});
  txt(ctx, box, '(1 TPU Layer)', rx, 414.6, `bold 6.3px ${FL}`, {align: 'right', color: '#222'});
  seg(ctx, box, x + 7.5, x + 34.5, 430, ORANGE_T, 2.2);
  txt(ctx, box, '0% Air gap', rx, 426.8, `bold 9.5px ${FL}`, {align: 'right', color: '#222'});
  txt(ctx, box, '(3 TPU Layers)', rx, 435.5, `bold 6.3px ${FL}`, {align: 'right', color: '#222'});
}
function loadNotes(ctx, ch, notes) {
  const X = ch.scales.x, Y = ch.scales.y;
  notes.forEach(([s, t, v, size]) => {
    txt(ctx, ORIGIN, s, X.getPixelForValue(t), Y.getPixelForValue(v), `bold ${size}px ${FL}`);
  });
}

const bigX = (min, max, ticks, dec) => ({min, max, ticks, dec, grid: true, tl: 4, pad: 3.2, font: {family: FT, size: 12.5}});
const bigY = (max, ticks) => ({min: 0, max, ticks, grid: true, tl: 5, pad: 6.5, font: {family: FT, size: 12.5}});
const darkFrame = {color: '#3a3a3a', width: 1.3};

const boxC = {x: 0, y: 372, w: 600, h: 418};
panel(boxC, {l: 93.8, t: 378, r: 577, b: 738},
  bigX(-0.02, 3.0, [0, 0.5, 1, 1.5, 2, 2.5, 3], 1),
  bigY(1.2, [0, 0.2, 0.4, 0.6, 0.8, 1.0, 1.2]),
  [line(pts(timeC, orangeC), ORANGE_T, 4.5), line(pts(timeC, blueC), BLUE_T, 4.5)],
  darkFrame,
  (ctx, ch, box) => {
    loadNotes(ctx, ch, loadsC);
    loadLegend(ctx, box, 100.6, '15x15mm Cells', '44% Air gap');
    txt(ctx, box, 'Time [hour]', 335, 772.7, `13.5px ${FT}`, {color: '#222'});
    ratioLabel(ctx, box, 48, 558, 14);
  });

const boxD = {x: 600, y: 372, w: 605, h: 418};
panel(boxD, {l: 671.4, t: 378, r: 1154.4, b: 738},
  bigX(-0.016, 3.0, [0, 0.5, 1, 1.5, 2, 2.5, 3], 1),
  bigY(1.5, [0, 0.2, 0.4, 0.6, 0.8, 1.0, 1.2, 1.4]),
  [line(pts(timeD, orangeD), ORANGE_T, 4.5), line(pts(timeD, blueD), BLUE_T, 4.5)],
  darkFrame,
  (ctx, ch, box) => {
    loadNotes(ctx, ch, loadsD);
    loadLegend(ctx, box, 678.3, '10x10mm Cells', '56% Air gap');
    txt(ctx, box, 'Time [hour]', 913, 772.7, `13.5px ${FT}`, {color: '#222'});
    ratioLabel(ctx, box, 627, 560, 14);
  });

// ---------------- (e) / (f) ----------------
function tpuLegend(ctx, box, x, cell, gap) {
  rrect(ctx, box, x, 805, 99.4, 84, 2.5);
  txt(ctx, box, cell, x + 49.7, 814, `12.5px ${FL}`);
  fillBox(ctx, box, x + 8.4, 822.7, 82.6, 17.3, TAG_ORANGE);
  txt(ctx, box, gap, x + 49.7, 831.6, `bold 13px ${FL}`);
  [['1x TPU', C_BLUE, 849], ['2x TPU', C_GREEN, 864], ['3x TPU', C_RED, 879.3]].forEach(([s, c, y]) => {
    seg(ctx, box, x + 7.7, x + 35.3, y, c, 2.2);
    txt(ctx, box, s, x + 47.9, y, `12.5px ${FL}`, {align: 'left'});
  });
}

const boxE = {x: 0, y: 792, w: 600, h: 411};
panel(boxE, {l: 93.8, t: 798, r: 577, b: 1157.7},
  bigX(0, 500, [0, 100, 200, 300, 400, 500], 0),
  bigY(1.6, [0, 0.2, 0.4, 0.6, 0.8, 1.0, 1.2, 1.4, 1.6]),
  [line(pairs(e3x), C_RED, 1.8), line(pairs(e2x), C_GREEN, 1.8), line(pairs(e1x), C_BLUE, 1.8)],
  darkFrame,
  (ctx, ch, box) => {
    tpuLegend(ctx, box, 100.6, '15x15mm Cell', '44%  Air gap');
    txt(ctx, box, 'Pressure [kPa]', 335, 1192.7, `13px ${FT}`, {color: '#222'});
    ratioLabel(ctx, box, 48, 978, 14);
  });

const boxF = {x: 600, y: 792, w: 605, h: 411};
panel(boxF, {l: 672.5, t: 798, r: 1155.6, b: 1157.7},
  bigX(0, 1000, [0, 200, 400, 600, 800, 1000], 0),
  bigY(1.6, [0, 0.2, 0.4, 0.6, 0.8, 1.0, 1.2, 1.4, 1.6]),
  [line(pairs(f3x), C_RED, 1.8), line(pairs(f2x), C_GREEN, 1.8), line(pairs(f1x), C_BLUE, 1.8)],
  darkFrame,
  (ctx, ch, box) => {
    tpuLegend(ctx, box, 680, '10x10mm Cell', '56%  Air gap');
    txt(ctx, box, 'Pressure [kPa]', 914, 1192.7, `13px ${FT}`, {color: '#222'});
    ratioLabel(ctx, box, 627, 978, 14);
  });
</script>
</body>
</html>
